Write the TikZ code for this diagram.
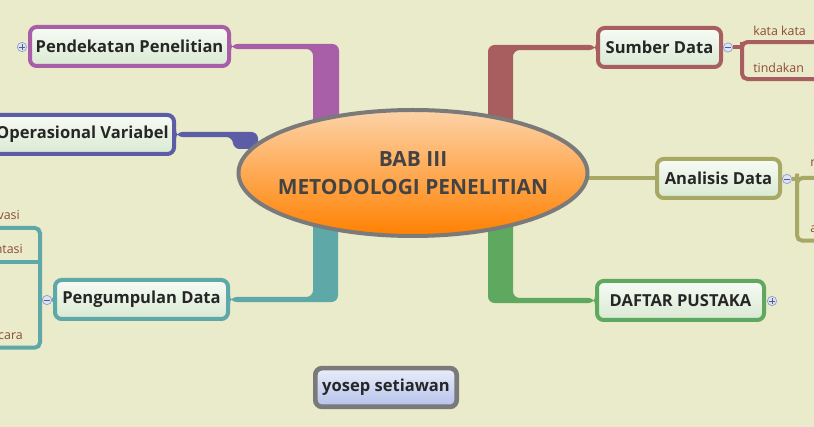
\documentclass[tikz,border=0pt]{standalone}
\usepackage{fontspec}
\setmainfont{Open Sans}
\usetikzlibrary{shapes.geometric,calc}
\pgfdeclarelayer{back}
\pgfdeclarelayer{links}
\pgfsetlayers{back,links,main}
\definecolor{paper}{HTML}{EAEBCA}
\definecolor{pendc}{HTML}{A85FA8}
\definecolor{opvc}{HTML}{5D5DA6}
\definecolor{sumc}{HTML}{A85E5E}
\definecolor{anac}{HTML}{A7A863}
\definecolor{pengc}{HTML}{5EA8A8}
\definecolor{dafc}{HTML}{5FA85F}
\definecolor{rimgray}{HTML}{7A7A7A}
\definecolor{boxtop}{HTML}{F7FBF4}
\definecolor{boxbot}{HTML}{D9E9D2}
\definecolor{yostop}{HTML}{EAEEFA}
\definecolor{yosbot}{HTML}{B4C1EA}
\definecolor{eltop}{HTML}{FDD3A8}
\definecolor{elmid}{HTML}{FDAD5E}
\definecolor{elbot}{HTML}{FF8000}
\definecolor{ink}{HTML}{262626}
\definecolor{elink}{HTML}{434343}
\definecolor{subtxt}{HTML}{8E4A36}
\definecolor{foldfill}{HTML}{DCE3F7}
\definecolor{foldline}{HTML}{8E9DCB}
\newcommand{\tsz}{\fontsize{12.4}{14}\selectfont}
\newcommand{\ssz}{\fontsize{9.3}{11}\selectfont}

\begin{document}
\begin{tikzpicture}[x=0.75pt,y=-0.75pt,
   topic/.style={draw=#1,line width=3pt,rounded corners=5pt,
      top color=boxtop,bottom color=boxbot,text=ink,
      minimum height=29.25pt,inner xsep=4pt,font=\bfseries\tsz},
   sub/.style={text=subtxt,font=\ssz,inner sep=0pt},
   fold/.style={circle,draw=foldline,fill=foldfill,line width=0.5pt,
      minimum size=7pt,inner sep=0pt},
   plusfold/.style={fold,path picture={
      \draw[foldline!60!black,line width=0.6pt]
        ([xshift=-2pt]path picture bounding box.center) -- ([xshift=2pt]path picture bounding box.center)
        ([yshift=-2pt]path picture bounding box.center) -- ([yshift=2pt]path picture bounding box.center);}},
   minusfold/.style={fold,path picture={
      \draw[foldline!60!black,line width=0.6pt]
        ([xshift=-2pt]path picture bounding box.center) -- ([xshift=2pt]path picture bounding box.center);}},
   limb/.style={line width=3pt,rounded corners=4pt}]
   \useasboundingbox (0,0) rectangle (814,427);
   \begin{pgfonlayer}{back}
      \fill[paper] (0,0) rectangle (814,427);
   \end{pgfonlayer}

   \node[ellipse,draw=rimgray,line width=3pt,top color=eltop,middle color=elmid,bottom color=elbot,
      minimum width=261.75pt,minimum height=94.5pt,inner sep=0pt]
      (centre) at (413,173) {};
   \node[align=center,font=\bfseries\fontsize{15.7}{21}\selectfont,text=elink]
      (centretext) at (centre.center) {BAB III\\METODOLOGI PENELITIAN};

   \node[topic=pendc,anchor=east,minimum width=149.25pt] (pend) at (231,46.5) {Pendekatan Penelitian};
   \node[topic=opvc,anchor=east] (opv) at (176,134.5) {Operasional Variabel};
   \node[topic=pengc,anchor=east,minimum width=129.75pt] (peng) at (230,299.5) {Pengumpulan Data};
   \node[topic=sumc,anchor=west,minimum width=92.25pt] (sumber) at (596,47.5) {Sumber Data};
   \node[topic=anac,anchor=west,minimum width=92.25pt] (anal) at (655,178.5) {Analisis Data};
   \node[topic=dafc,anchor=west,minimum width=125.25pt] (daftar) at (595,300.5) {DAFTAR PUSTAKA};
   \node[draw=rimgray,line width=3.5pt,rounded corners=5pt,top color=yostop,bottom color=yosbot,
      text=ink,minimum height=29pt,minimum width=106pt,inner xsep=4pt,font=\bfseries\tsz]
      (yosep) at (386,387.5) {yosep setiawan};

   \node[plusfold] (pendfold) at (22,47) {};
   \node[minusfold] (sumfold) at (728,47.5) {};
   \node[minusfold] (anafold) at (787,179) {};
   \node[minusfold] (pengfold) at (47,300) {};
   \node[plusfold] (daffold) at (772,301) {};

   \node[sub,anchor=west] (kata) at (753,31) {kata kata};
   \node[sub,anchor=west] (tind) at (753,68) {tindakan};
   \node[sub,anchor=west] (anaone) at (810,163) {r};
   \node[sub,anchor=west] (anatwo) at (810,229) {a};
   \node[sub,anchor=east] (obs) at (20,215) {vasi};
   \node[sub,anchor=east] (dok) at (23,249) {ntasi};
   \node[sub,anchor=east] (waw) at (23,336) {cara};

   \coordinate (sumfork) at (742,47.5);
   \coordinate (anafork) at (797,179);
   \coordinate (pengfork) at (40,300);

   \begin{pgfonlayer}{links}
      \fill[pendc,rounded corners=5pt] ([yshift=1.9pt]pend.east) -| ([xshift=-55.5pt]centre.center)
         -- ([xshift=-75pt]centre.center) |- ([yshift=-1.9pt]pend.east) -- cycle;
      \fill[opvc,rounded corners=5pt] ([yshift=1.9pt]opv.east) -| ($(centre.west)+(21.5,-24)$)
         -- ($(centre.west)+(-3.5,-24)$) |- ([yshift=-1.9pt]opv.east) -- cycle;
      \fill[sumc,rounded corners=5pt] ([yshift=1.9pt]sumber.west) -| ([xshift=56.25pt]centre.center)
         -- ([xshift=75pt]centre.center) |- ([yshift=-1.9pt]sumber.west) -- cycle;
      \fill[pengc,rounded corners=5pt] ([yshift=-1.9pt]peng.east) -| ([xshift=-56.25pt]centre.center)
         -- ([xshift=-75pt]centre.center) |- ([yshift=1.9pt]peng.east) -- cycle;
      \fill[dafc,rounded corners=5pt] ([yshift=-1.9pt]daftar.west) -| ([xshift=56.25pt]centre.center)
         -- ([xshift=75pt]centre.center) |- ([yshift=1.9pt]daftar.west) -- cycle;
      \draw[anac,line width=3pt] (anal.west) -- (anal.west -| centre.center);

      \draw[sumc,limb] (sumber.east) -- (sumfold) -- (sumfork);
      \draw[sumc,limb] ($(kata.south -| 830,0)+(0,6)$) -| (sumfork) |- ($(tind.south -| 830,0)+(0,6)$);
      \draw[anac,limb] (anal.east) -- (anafold) -- (anafork);
      \draw[anac,limb] ($(anafork)+(40,-1)$) -| (anafork) |- ($(anatwo.south -| 830,0)+(0,8)$);
      \draw[pengc,limb] (peng.west) -- (pengfold) -- (pengfork);
      \draw[pengc,limb] ($(obs.south -| -20,0)+(0,8)$) -| (pengfork) |- ($(waw.south -| -20,0)+(0,8)$);
      \draw[pengc,limb] ($(dok.south -| -20,0)+(0,8)$) -- ($(dok.south -| pengfork)+(0,8)$);
   \end{pgfonlayer}
\end{tikzpicture}
\end{document}
